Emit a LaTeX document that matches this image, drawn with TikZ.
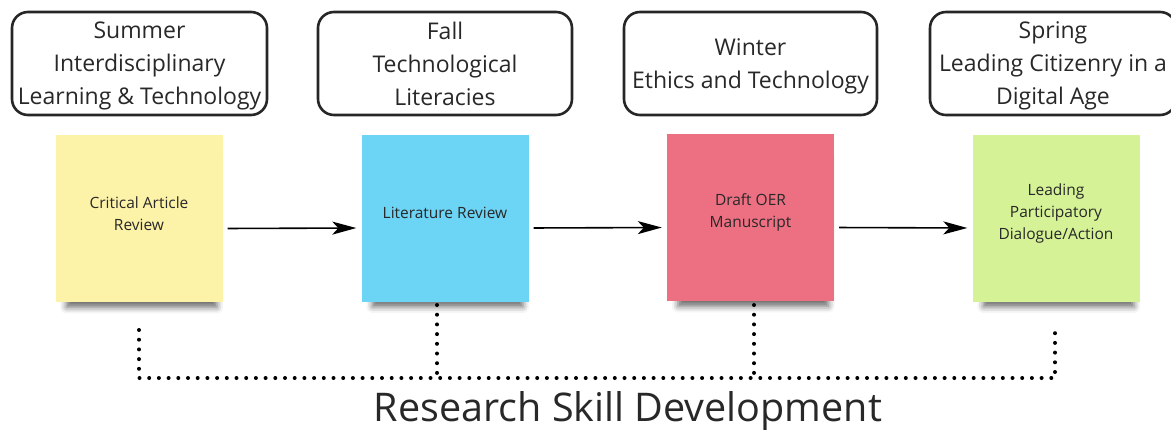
\documentclass[tikz,border=0pt]{standalone}
\usepackage{fontspec}
\setmainfont{Open Sans}
\usetikzlibrary{arrows.meta,shadows.blur}
\definecolor{noteyellow}{RGB}{253,243,168}
\definecolor{noteblue}{RGB}{108,212,245}
\definecolor{notepink}{RGB}{236,111,130}
\definecolor{notegreen}{RGB}{213,242,150}
\definecolor{txtgray}{RGB}{40,40,40}

\begin{document}
\begin{tikzpicture}[x=1pt,y=-1pt,
	season/.style={draw=black!85,line width=2.6pt,rounded corners=16pt,minimum height=103pt,
		align=center,font=\fontsize{23}{33}\selectfont,text=txtgray,inner sep=0pt,text depth=0pt},
	note/.style={minimum width=167pt,minimum height=167pt,
		blur shadow={shadow xshift=3pt,shadow yshift=-15pt,shadow scale=0.9,shadow blur radius=7pt,shadow opacity=60}},
	notetext/.style={align=center,font=\fontsize{15.5}{22}\selectfont,text=txtgray,yshift=5pt},
	flow/.style={line width=1.6pt,-{Stealth[length=24pt,width=13pt,inset=6pt]},shorten <=5pt,shorten >=5pt},
	track/.style={line width=4pt,dash pattern=on 0pt off 9.7pt,line cap=round}]
	\useasboundingbox (0,0) rectangle (1171,429);
	% Seasons
	\node[season,minimum width=255pt] (summer) at (139.5,63.5) {Summer\\Interdisciplinary\\Learning \& Technology};
	\node[season,minimum width=254pt] (fall) at (445,63.5) {Fall\\Technological\\Literacies};
	\node[season,minimum width=253pt] (winter) at (750.5,63.5) {Winter\\Ethics and Technology};
	\node[season,minimum width=246pt] (spring) at (1053,63.5) {Spring\\Leading Citizenry in a\\Digital Age};
	% Notes
	\node[note,fill=noteyellow,label={[notetext]center:{Critical Article\\Review}}] (critical) at (139,218.5) {};
	\node[note,fill=noteblue,label={[notetext]center:{Literature Review}}] (literature) at (445,218) {};
	\node[note,fill=notepink,label={[notetext]center:{Draft OER\\Manuscript}}] (draft) at (750.5,217.5) {};
	\node[note,fill=notegreen,label={[notetext]center:{Leading\\Participatory\\Dialogue/Action}}] (dialogue) at (1056,218) {};
	% Arrows
	\draw[flow] ([yshift=-10pt]critical.east) -- ([yshift=-10pt]literature.west);
	\draw[flow] ([yshift=-10pt]literature.east) -- ([yshift=-10pt]draft.west);
	\draw[flow] ([yshift=-10pt]draft.east) -- ([yshift=-10pt]dialogue.west);
	% Development track
	\coordinate (t1) at (139,330);
	\coordinate (t2) at (437,305);
	\coordinate (t3) at (754,305);
	\coordinate (t4) at (1055,330);
	\coordinate (b1) at (139,378);
	\coordinate (b2) at (437,378);
	\coordinate (b3) at (754,378);
	\coordinate (b4) at (1055,378);
	\draw[track] (t1) -- (b1) -- (b4) -- (t4);
	\draw[track] (t2) -- (b2);
	\draw[track] (t3) -- (b3);
	\node[font=\fontsize{39.5}{42}\selectfont,text=txtgray,inner sep=0pt] (research) at (628,411) {Research Skill Development};
\end{tikzpicture}
\end{document}
